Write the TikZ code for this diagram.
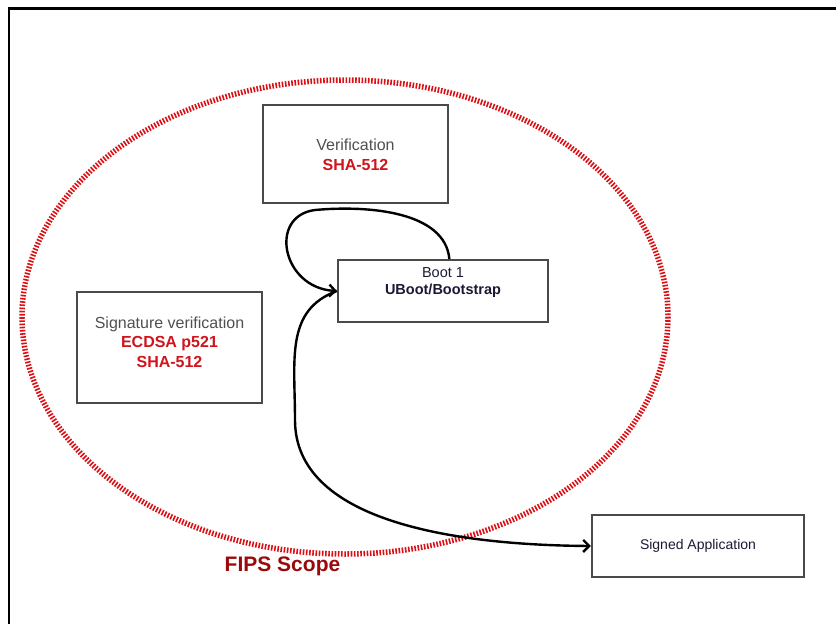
\documentclass[tikz,border=0pt]{standalone}
\usepackage{fontspec}
\setmainfont{Liberation Sans}
\usetikzlibrary{arrows.meta,calc}
\definecolor{boxgray}{HTML}{4A4A4A}
\definecolor{txtgray}{HTML}{505050}
\definecolor{redtxt}{HTML}{D0141C}
\definecolor{navytxt}{HTML}{1A1A35}
\definecolor{fipsred}{HTML}{9B0A0A}
\definecolor{scopered}{HTML}{DC0F14}
\begin{document}
\begin{tikzpicture}[x=1pt,y=-1pt,
  blk/.style={draw=boxgray,line width=2.2pt,fill=white,inner sep=0pt,align=center},
  conn/.style={draw=black,line width=2.4pt,-{Straight Barb[length=6pt,width=12pt,line width=2.4pt]}}]
\useasboundingbox (0,0) rectangle (836,624);
\fill[white] (0,0) rectangle (836,624);
% frame
\draw[black,line width=2.5pt] (9,640) -- (9,8.5) -- (850,8.5);
% scope ellipse
\draw[scopered,line width=5.5pt,dash pattern=on 1.6pt off 1.6pt] (345,317) ellipse [x radius=323, y radius=237];
% boxes
\node[blk,minimum width=185pt,minimum height=98pt] (ver) at (355.5,154) {};
\node[font=\fontsize{16}{19.5}\selectfont,align=center] (vertxt) at (355.5,155)
  {\textcolor{txtgray}{Verification}\\\textcolor{redtxt}{\bfseries SHA-512}};
\node[blk,minimum width=210pt,minimum height=62pt] (boot) at (443,291) {};
\node[font=\fontsize{14.5}{18}\selectfont,align=center,text=navytxt,anchor=north] (boottxt) at (443,264)
  {Boot 1\\[-1pt]\bfseries UBoot/Bootstrap};
\node[blk,minimum width=185pt,minimum height=111pt] (sig) at (169.5,347.5) {};
\node[font=\fontsize{16}{19.5}\selectfont,align=center] (sigtxt) at (169.5,342)
  {\textcolor{txtgray}{Signature verification}\\\textcolor{redtxt}{\bfseries ECDSA p521}\\\textcolor{redtxt}{\bfseries SHA-512}};
\node[blk,minimum width=212pt,minimum height=62pt] (app) at (698,546) {};
\node[font=\fontsize{14}{17}\selectfont,text=navytxt] (apptxt) at (698,546) {Signed Application};
\node[font=\fontsize{21}{25}\selectfont\bfseries,text=fipsred] (fips) at (282.5,566) {FIPS Scope};
% connectors
\coordinate (loopstart) at ($(boot.north west)!0.53!(boot.north east)$);
\coordinate (bootin) at ($(boot.north west)!0.5!(boot.south west)$);
\draw[conn] (loopstart) .. controls (445,212) and (370,205) .. (315,210)
  .. controls (268,216) and (282,288) .. (bootin);
\draw[conn] (bootin) .. controls (285,310) and (295,360) .. (295,420)
  .. controls (295,520) and (450,545) .. (app.west);
\end{tikzpicture}
\end{document}
